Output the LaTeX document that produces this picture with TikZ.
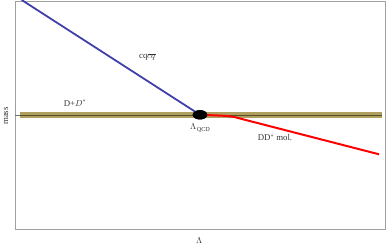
\documentclass[tikz,border=0pt]{standalone}
\usepackage{fontspec}
\setmainfont{Liberation Serif}
\usepackage{unicode-math}
\setmathfont{Latin Modern Math}
\usetikzlibrary{shapes.geometric}
\definecolor{bandouter}{RGB}{176,160,96}
\definecolor{bandinner}{RGB}{88,80,36}
\definecolor{lineblue}{RGB}{64,64,168}
\definecolor{framegray}{RGB}{160,160,160}
\tikzset{
  lbl/.style={font=\fontsize{8.8}{10}\selectfont, text=black!80, inner sep=0pt},
}
\begin{document}
\begin{tikzpicture}[x=1pt,y=-1pt]
\useasboundingbox (0,0) rectangle (387,245);
% frame
\draw[framegray, line width=0.8pt] (15.3,1.3) rectangle (385.5,229.3);
\coordinate (tickA) at (15.3,115.3);
\coordinate (tickB) at (20,115.3);
\draw[framegray!70!black, line width=0.6pt] (tickA) -- (tickB);
% band
\coordinate (bandL) at (20,115.3);
\coordinate (bandR) at (381.5,115.3);
\draw[bandouter, line width=6pt] (bandL) -- (bandR);
\draw[bandinner, line width=1.5pt] (bandL) -- (bandR);
% lines
\node[fill=black, ellipse, minimum width=14.6pt, minimum height=9.4pt, inner sep=0pt] (lam) at (200,114.8) {};
\coordinate (blueTop) at (21.7,0);
\draw[lineblue, line width=1.8pt] (blueTop) -- (lam.center);
\coordinate (redMid) at (238,118);
\coordinate (redEnd) at (379,154.3);
\draw[red, line width=2pt] (lam.center) -- (220,115.6) .. controls (230,116) and (234,116.8) .. (redMid) -- (redEnd);
\fill[black] (lam.center) ellipse (7.3pt and 4.7pt);
% labels
\node[lbl] (cq) at (147.5,57) {cq$\overline{cq}$};
\node[lbl] (dd) at (75,103) {D+$D^{*}$};
\node[lbl] (lqcd) at (200.5,127.5) {$\Lambda_{\mathrm{QCD}}$};
\node[lbl] (mol) at (275,138) {DD$^{*}$ mol.};
\node[lbl] (lamx) at (200,240.5) {$\Lambda$};
\node[lbl, rotate=90] (mass) at (6,116) {mass};
\end{tikzpicture}
\end{document}
